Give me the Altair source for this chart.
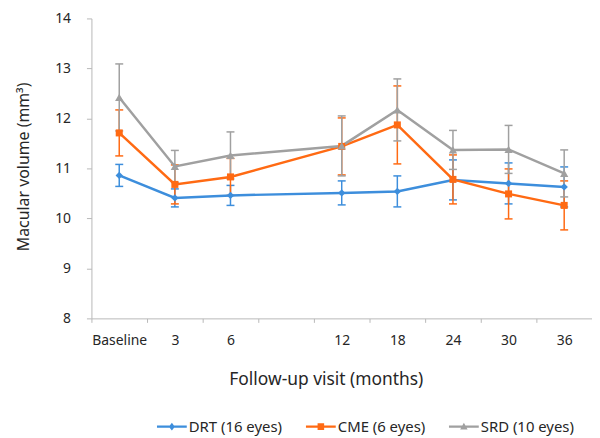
import altair as alt
import pandas as pd

# ---- data ----
months = ["Baseline", "3", "6", "12", "18", "24", "30", "36"]
x_domain = ["Baseline", "3", "6", " ", "12", "18", "24", "30", "36"]
series_names = ["DRT (16 eyes)", "CME (6 eyes)", "SRD (10 eyes)"]

drt_mean = [10.86, 10.41, 10.46, 10.51, 10.54, 10.77, 10.70, 10.63]
drt_sd = [0.22, 0.18, 0.20, 0.24, 0.31, 0.40, 0.41, 0.40]
cme_mean = [11.71, 10.68, 10.83, 11.44, 11.87, 10.78, 10.49, 10.26]
cme_sd = [0.46, 0.39, 0.37, 0.57, 0.78, 0.49, 0.50, 0.49]
srd_mean = [12.42, 11.04, 11.26, 11.45, 12.17, 11.37, 11.38, 10.90]
srd_sd = [0.67, 0.32, 0.47, 0.60, 0.62, 0.39, 0.48, 0.47]

y_ticks = [8, 9, 10, 11, 12, 13, 14]

rows = []
for s, means, sds in zip(series_names, [drt_mean, cme_mean, srd_mean], [drt_sd, cme_sd, srd_sd]):
    for i, (m, mu, sd) in enumerate(zip(months, means, sds)):
        rows.append(dict(series=s, month=m, idx=i, mean=mu, lo=round(mu - sd, 3), hi=round(mu + sd, 3)))
df = pd.DataFrame(rows)

# ---- styles ----
colors = ["#3D8EDC", "#FF6A13", "#A0A0A0"]
shapes = ["diamond", "square", "triangle-up"]
marker_sizes = [55, 50, 70]
legend_paths = [
    "M-1,-0.075H1V0.075H-1Z M0,-0.26L0.2,0L0,0.26L-0.2,0Z",
    "M-1,-0.075H1V0.075H-1Z M-0.22,-0.22H0.22V0.22H-0.22Z",
    "M-1,-0.075H1V0.075H-1Z M0,-0.26L0.25,0.2H-0.25Z",
]
FONT = "Noto Sans"
TXT = "#262626"
AX = "#B8B8B8"

x_axis = alt.Axis(
    title="Follow-up visit (months)", tickBand="extent", labelAngle=0,
    domainColor=AX, tickColor=AX, tickSize=4, labelPadding=11,
    labelFontSize=14, labelColor=TXT, labelFont=FONT,
    titleFontSize=17.5, titleFontWeight="normal", titleColor=TXT, titleFont=FONT,
    titleX=236, titleY=62, titleBaseline="middle", grid=False,
)
y_axis = alt.Axis(
    title="Macular volume (mm³)", values=y_ticks, domainColor=AX, tickColor=AX,
    tickSize=5, labelPadding=16, labelFontSize=14, labelColor=TXT, labelFont=FONT,
    titleFontSize=16, titleFontWeight="normal", titleColor=TXT, titleFont=FONT,
    titleX=-68, titleY=149, titleBaseline="middle", grid=False,
)
x_scale = alt.Scale(type="band", domain=x_domain, paddingInner=0, paddingOuter=0)
y_scale = alt.Scale(domain=[8, 14], nice=False, zero=False)
color_scale = alt.Scale(domain=series_names, range=colors)

x_enc = alt.X("month:N", scale=x_scale, axis=x_axis)


def Y(field):
    return alt.Y(field, scale=y_scale, axis=y_axis)


err_layers, line_layers, pt_layers = [], [], []
for s, col, shp, msz in zip(series_names, colors, shapes, marker_sizes):
    base = alt.Chart(df).transform_filter(alt.datum.series == s)
    err_layers.append(base.mark_rule(strokeWidth=1.5, color=col).encode(x=x_enc, y=Y("lo:Q"), y2="hi:Q"))
    err_layers.append(
        base.transform_fold(["lo", "hi"], as_=["end", "val"])
        .mark_tick(size=8, thickness=1.5, opacity=1, color=col)
        .encode(x=x_enc, y=Y("val:Q"))
    )
    line_layers.append(
        base.mark_line(strokeWidth=2.5, color=col).encode(x=x_enc, y=Y("mean:Q"), order=alt.Order("idx:Q"))
    )
    pt_layers.append(
        base.mark_point(shape=shp, filled=True, opacity=1, size=msz, color=col).encode(x=x_enc, y=Y("mean:Q"))
    )

leg = alt.Legend(
    title=None, orient="none", legendX=66, legendY=396, direction="horizontal",
    symbolSize=900, symbolStrokeWidth=0, labelFontSize=15, labelFont=FONT,
    labelColor=TXT, labelOffset=2, columnPadding=23, padding=0,
)
legend_layer = alt.Chart(df[df.idx == 0]).mark_point(filled=True, opacity=1, clip=True).encode(
    x=x_enc,
    y=alt.value(-500),
    color=alt.Color("series:N", scale=color_scale, legend=leg),
    shape=alt.Shape("series:N", scale=alt.Scale(domain=series_names, range=legend_paths), legend=leg),
)

chart = alt.layer(*err_layers, *line_layers, *pt_layers, legend_layer).properties(
    width=504, height=302,
    autosize=alt.AutoSizeParams(type="none"),
    padding={"left": 84, "top": 9, "right": 0, "bottom": 130},
).configure_view(stroke=None)

chart.save("out.html", embed_options={"renderer": "svg", "actions": False})
